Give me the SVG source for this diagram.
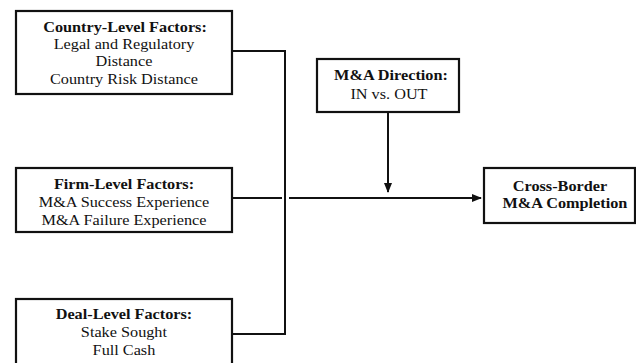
<svg xmlns="http://www.w3.org/2000/svg" width="636" height="363" viewBox="0 0 636 363">
<defs>
<marker id="arr" markerWidth="10" markerHeight="8" refX="9" refY="4" orient="auto" markerUnits="userSpaceOnUse">
<path d="M0,0 L10,4 L0,8 Z" fill="#111"/>
</marker>
<style>
.box{fill:#fff;stroke:#111;stroke-width:2.2}
.t{font-family:"Liberation Serif","Times New Roman",serif;font-size:14px;fill:#111;text-anchor:middle;transform-box:fill-box;transform-origin:center;transform:scaleX(1.16)}
.b{font-weight:bold}
.c{fill:none;stroke:#111;stroke-width:2}
</style>
</defs>
<rect width="636" height="363" fill="#fff"/>
<g id="connectors">
<path class="c" d="M232,51 H285 V334 H232"/>
<path class="c" d="M232,198 H282"/>
<path class="c" d="M289,198 H481" marker-end="url(#arr)"/>
<path class="c" d="M388,112 V192" marker-end="url(#arr)"/>
</g>
<g id="country">
<rect class="box" x="16" y="11" width="216" height="83"/>
<text class="t b" x="125" y="32">Country-Level Factors:</text>
<text class="t" x="124" y="49">Legal and Regulatory</text>
<text class="t" x="124" y="66">Distance</text>
<text class="t" x="124" y="84">Country Risk Distance</text>
</g>
<g id="firm">
<rect class="box" x="16" y="168" width="216" height="64"/>
<text class="t b" x="124" y="189">Firm-Level Factors:</text>
<text class="t" x="124" y="207">M&amp;A Success Experience</text>
<text class="t" x="124" y="225">M&amp;A Failure Experience</text>
</g>
<g id="deal">
<rect class="box" x="16" y="299" width="216" height="80"/>
<text class="t b" x="124" y="319">Deal-Level Factors:</text>
<text class="t" x="124" y="337">Stake Sought</text>
<text class="t" x="124" y="355">Full Cash</text>
</g>
<g id="direction">
<rect class="box" x="317" y="59" width="142" height="53"/>
<text class="t b" x="391" y="80">M&amp;A Direction:</text>
<text class="t" x="389" y="99">IN vs. OUT</text>
</g>
<g id="completion">
<rect class="box" x="484" y="168" width="151" height="55"/>
<text class="t b" x="560" y="191">Cross-Border</text>
<text class="t b" x="565" y="208">M&amp;A Completion</text>
</g>
</svg>
